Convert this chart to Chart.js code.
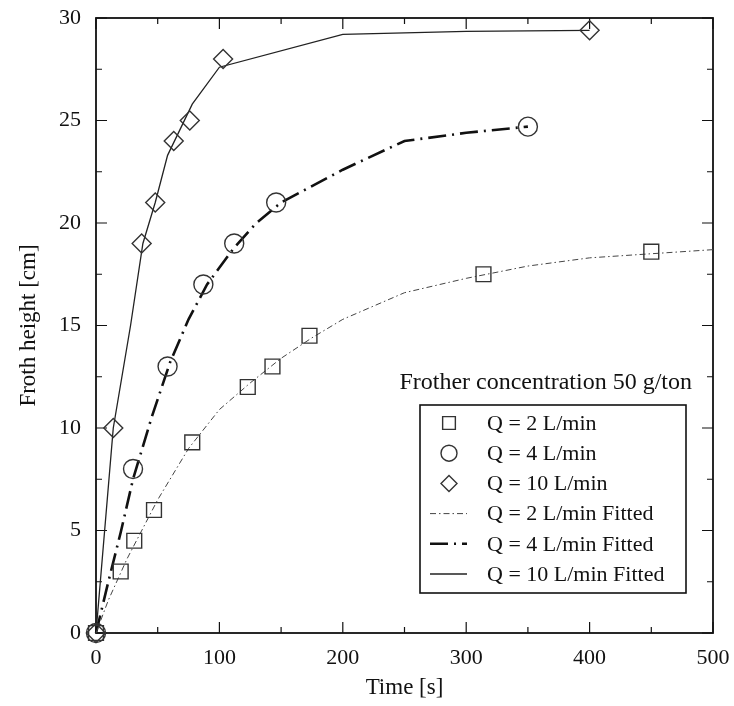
<!DOCTYPE html>
<html>
<head>
<meta charset="utf-8">
<script src="https://cdn.jsdelivr.net/npm/chart.js@4/dist/chart.umd.min.js"></script>
<style>
  html, body { margin: 0; padding: 0; background: #fff; }
  #wrap { width: 734px; height: 706px; }
</style>
</head>
<body>
<div id="wrap"><canvas id="chart1" width="734" height="706"></canvas></div>
<script>
// measured points (Time [s], Froth height [cm])
const timeQ2 = [0, 20, 31, 47, 78, 123, 143, 173, 314, 450];
const heightQ2 = [0, 3, 4.5, 6, 9.3, 12, 13, 14.5, 17.5, 18.6];
const timeQ4 = [0, 30, 58, 87, 112, 146, 350];
const heightQ4 = [0, 8, 13, 17, 19, 21, 24.7];
const timeQ10 = [0, 14, 37, 48, 63, 76, 103, 400];
const heightQ10 = [0, 10, 19, 21, 24, 25, 28, 29.4];

// fitted curves
const fitTimeQ2 = [0, 10, 25, 50, 75, 100, 125, 150, 175, 200, 250, 300, 350, 400, 450, 500];
const fitHeightQ2 = [0, 1.6, 3.6, 6.5, 9.0, 10.9, 12.2, 13.4, 14.4, 15.3, 16.6, 17.3, 17.9, 18.3, 18.5, 18.7];
const fitTimeQ4 = [0, 10, 20, 30, 45, 60, 75, 90, 112, 130, 150, 200, 250, 300, 350];
const fitHeightQ4 = [0, 2.5, 4.9, 7.5, 10.5, 13.2, 15.3, 17, 18.8, 20, 21, 22.6, 24, 24.4, 24.7];
const fitTimeQ10 = [0, 14, 28, 38, 48, 58, 78, 100, 200, 300, 400];
const fitHeightQ10 = [0, 10, 15, 19, 21, 23.3, 25.8, 27.6, 29.2, 29.35, 29.4];

const xTicks = [0, 100, 200, 300, 400, 500];
const yTicks = [0, 5, 10, 15, 20, 25, 30];

const FONT = "'Liberation Serif', 'Times New Roman', serif";

function pts(xs, ys) {
    return xs.map((x, i) => ({ x: x, y: ys[i] }));
}

// inward ticks on all four sides + frame
const framePlugin = {
    id: "frame",
    beforeDatasetsDraw(chart) {
        const ctx = chart.ctx;
        const a = chart.chartArea;
        const xs = chart.scales.x, ys = chart.scales.y;
        ctx.save();
        ctx.strokeStyle = "#111";
        ctx.lineWidth = 1.2;
        const major = 11, minor = 6;
        const xv = xs.ticks.map(t => t.value);
        xv.forEach((v, i) => {
            const px = xs.getPixelForValue(v);
            ctx.beginPath();
            ctx.moveTo(px, a.bottom); ctx.lineTo(px, a.bottom - major);
            ctx.moveTo(px, a.top); ctx.lineTo(px, a.top + major);
            ctx.stroke();
            if (i < xv.length - 1) {
                const mx = xs.getPixelForValue((v + xv[i + 1]) / 2);
                ctx.beginPath();
                ctx.moveTo(mx, a.bottom); ctx.lineTo(mx, a.bottom - minor);
                ctx.moveTo(mx, a.top); ctx.lineTo(mx, a.top + minor);
                ctx.stroke();
            }
        });
        const yv = ys.ticks.map(t => t.value);
        yv.forEach((v, i) => {
            const py = ys.getPixelForValue(v);
            ctx.beginPath();
            ctx.moveTo(a.left, py); ctx.lineTo(a.left + major, py);
            ctx.moveTo(a.right, py); ctx.lineTo(a.right - major, py);
            ctx.stroke();
            if (i < yv.length - 1) {
                const my = ys.getPixelForValue((v + yv[i + 1]) / 2);
                ctx.beginPath();
                ctx.moveTo(a.left, my); ctx.lineTo(a.left + minor, my);
                ctx.moveTo(a.right, my); ctx.lineTo(a.right - minor, my);
                ctx.stroke();
            }
        });
        ctx.lineWidth = 1.8;
        ctx.strokeRect(a.left, a.top, a.right - a.left, a.bottom - a.top);
        ctx.restore();
    }
};

// legend box inside the plot, like the original
const legendPlugin = {
    id: "boxLegend",
    afterDraw(chart) {
        const ctx = chart.ctx;
        const a = chart.chartArea;
        const box = { left: 420, top: 405, right: 686, bottom: 593 };
        ctx.save();
        ctx.fillStyle = "#111";
        ctx.font = "24px " + FONT;
        ctx.textAlign = "right";
        ctx.textBaseline = "middle";
        ctx.fillText("Frother concentration 50 g/ton", a.right - 21, 383);

        ctx.fillStyle = "#fff";
        ctx.fillRect(box.left, box.top, box.right - box.left, box.bottom - box.top);
        ctx.strokeStyle = "#111";
        ctx.lineWidth = 1.6;
        ctx.strokeRect(box.left, box.top, box.right - box.left, box.bottom - box.top);

        ctx.font = "22px " + FONT;
        ctx.textAlign = "left";
        const rowH = 30.2;
        chart.data.datasets.forEach((ds, i) => {
            const cy = box.top + 18 + i * rowH;
            ctx.strokeStyle = ds.borderColor;
            if (ds.showLine === false) {
                ctx.lineWidth = ds.borderWidth;
                ctx.setLineDash([]);
                ctx.fillStyle = "rgba(0,0,0,0)";
                Chart.helpers.drawPoint(ctx, {
                    pointStyle: ds.pointStyle,
                    radius: ds.legendRadius,
                    borderWidth: ds.borderWidth
                }, 449, cy);
            } else {
                ctx.lineWidth = ds.borderWidth;
                ctx.setLineDash(ds.borderDash || []);
                ctx.beginPath();
                ctx.moveTo(430, cy);
                ctx.lineTo(467, cy);
                ctx.stroke();
                ctx.setLineDash([]);
            }
            ctx.fillStyle = "#111";
            ctx.fillText(ds.label, 487, cy + 1);
        });
        ctx.restore();
    }
};

const markerStyle = {
    type: "scatter",
    showLine: false,
    backgroundColor: "rgba(0,0,0,0)",
    borderColor: "#333",
    borderWidth: 1.4,
    clip: false
};

const lineStyle = {
    type: "line",
    pointRadius: 0,
    fill: false,
    tension: 0,
    clip: false
};

new Chart(document.getElementById("chart1").getContext("2d"), {
    data: {
        datasets: [
            Object.assign({}, markerStyle, {
                label: "Q = 2 L/min",
                data: pts(timeQ2, heightQ2),
                pointStyle: "rect",
                pointRadius: 10.5,
                legendRadius: 9
            }),
            Object.assign({}, markerStyle, {
                label: "Q = 4 L/min",
                data: pts(timeQ4, heightQ4),
                pointStyle: "circle",
                pointRadius: 9.5,
                legendRadius: 8
            }),
            Object.assign({}, markerStyle, {
                label: "Q = 10 L/min",
                data: pts(timeQ10, heightQ10),
                pointStyle: "rectRot",
                pointRadius: 9.5,
                legendRadius: 8
            }),
            Object.assign({}, lineStyle, {
                label: "Q = 2 L/min Fitted",
                data: pts(fitTimeQ2, fitHeightQ2),
                borderColor: "#444",
                borderWidth: 1,
                borderDash: [6, 3, 1.5, 3]
            }),
            Object.assign({}, lineStyle, {
                label: "Q = 4 L/min Fitted",
                data: pts(fitTimeQ4, fitHeightQ4),
                borderColor: "#111",
                borderWidth: 2.6,
                borderDash: [18, 6, 2, 6]
            }),
            Object.assign({}, lineStyle, {
                label: "Q = 10 L/min Fitted",
                data: pts(fitTimeQ10, fitHeightQ10),
                borderColor: "#222",
                borderWidth: 1.3
            })
        ]
    },
    options: {
        responsive: false,
        animation: false,
        layout: { padding: { top: 18, right: 21, left: 0, bottom: 0 } },
        plugins: {
            legend: { display: false },
            tooltip: { enabled: false }
        },
        scales: {
            x: {
                type: "linear",
                min: xTicks[0],
                max: xTicks[xTicks.length - 1],
                afterBuildTicks: s => { s.ticks = xTicks.map(v => ({ value: v })); },
                afterFit: s => { s.height = 73; s.paddingLeft = 0; s.paddingRight = 0; },
                grid: { display: false, drawTicks: false },
                border: { display: false },
                ticks: {
                    autoSkip: false,
                    maxRotation: 0,
                    padding: 12,
                    color: "#111",
                    font: { family: FONT, size: 22 }
                },
                title: {
                    display: true,
                    text: "Time [s]",
                    color: "#111",
                    padding: { top: 0, bottom: 4 },
                    font: { family: FONT, size: 23 }
                }
            },
            y: {
                type: "linear",
                min: yTicks[0],
                max: yTicks[yTicks.length - 1],
                afterBuildTicks: s => { s.ticks = yTicks.map(v => ({ value: v })); },
                afterFit: s => { s.width = 96; s.paddingTop = 0; s.paddingBottom = 0; },
                grid: { display: false, drawTicks: false },
                border: { display: false },
                ticks: {
                    padding: 15,
                    color: "#111",
                    font: { family: FONT, size: 22 }
                },
                title: {
                    display: true,
                    text: "Froth height [cm]",
                    color: "#111",
                    padding: { top: 15, bottom: 0 },
                    font: { family: FONT, size: 23 }
                }
            }
        }
    },
    plugins: [framePlugin, legendPlugin]
});
</script>
</body>
</html>
